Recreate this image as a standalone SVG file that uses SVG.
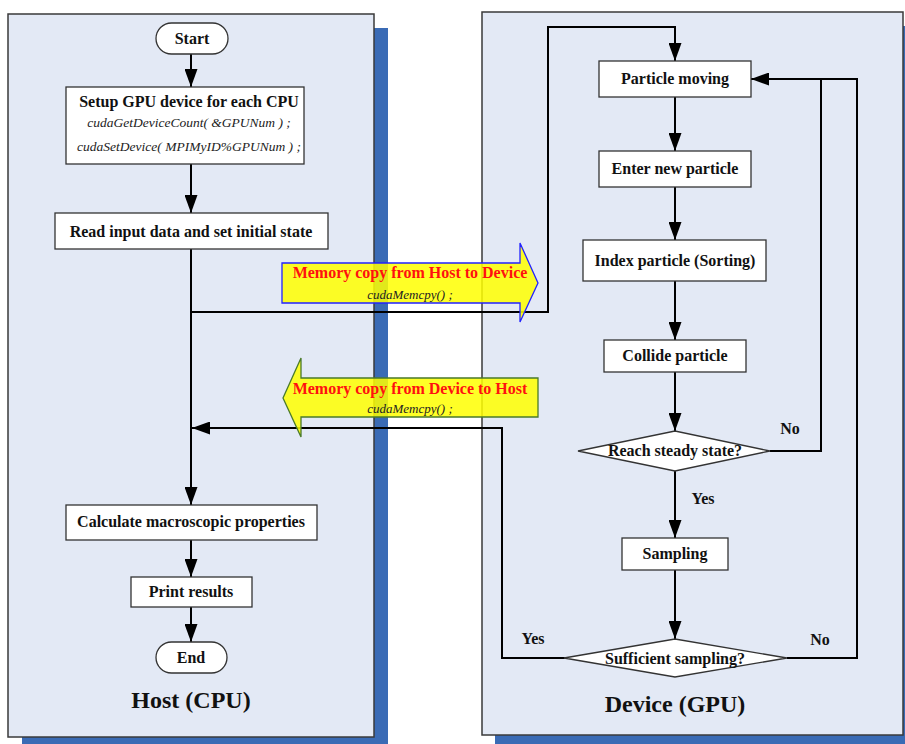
<svg xmlns="http://www.w3.org/2000/svg" width="905" height="744" viewBox="0 0 905 744">
<style>
.panel{fill:#e3e9f5;stroke:#3a3a3a;stroke-width:1.5}
.shadow{fill:#3a6bb5}
.box{fill:#ffffff;stroke:#333;stroke-width:1.3}
.t{font-family:"Liberation Serif","Times New Roman",serif;font-weight:bold;font-size:16px;fill:#111;text-anchor:middle}
.i{font-family:"Liberation Serif","Times New Roman",serif;font-style:italic;font-size:13.5px;fill:#222;text-anchor:middle}
.im{font-family:"Liberation Serif","Times New Roman",serif;font-style:italic;font-size:13px;fill:#222;text-anchor:middle}
.big{font-family:"Liberation Serif","Times New Roman",serif;font-weight:bold;font-size:24px;fill:#111;text-anchor:middle}
.red{font-family:"Liberation Serif","Times New Roman",serif;font-weight:bold;font-size:16px;fill:#ff1010;text-anchor:middle}
.c{fill:none;stroke:#000;stroke-width:2}
</style>
<defs>
<marker id="ah" viewBox="0 0 18 13" refX="18" refY="6.5" markerWidth="18" markerHeight="13" markerUnits="userSpaceOnUse" orient="auto">
<path d="M0,0 L18,6.5 L0,13 z" fill="#000"/>
</marker>
</defs>
<rect width="905" height="744" fill="#ffffff"/>
<g id="host-panel">
<rect class="shadow" x="22" y="28" width="366" height="723"/>
<rect class="panel" x="8" y="14" width="366" height="723"/>
<text class="big" x="191" y="708">Host (CPU)</text>
</g>
<g id="device-panel">
<rect class="shadow" x="495" y="26" width="421" height="723"/>
<rect class="panel" x="482" y="12" width="421" height="723"/>
<text class="big" x="675" y="712">Device (GPU)</text>
</g>
<g id="connectors">
<path class="c" d="M191,54 V87" marker-end="url(#ah)"/>
<path class="c" d="M191,164 V213" marker-end="url(#ah)"/>
<path class="c" d="M191,249 V505" marker-end="url(#ah)"/>
<path class="c" d="M191,540 V577" marker-end="url(#ah)"/>
<path class="c" d="M191,607 V642" marker-end="url(#ah)"/>
<path class="c" d="M191,312 H548 V27 H675 V61" marker-end="url(#ah)"/>
<path class="c" d="M675,97 V151" marker-end="url(#ah)"/>
<path class="c" d="M675,187 V240" marker-end="url(#ah)"/>
<path class="c" d="M675,281 V340" marker-end="url(#ah)"/>
<path class="c" d="M675,372 V431" marker-end="url(#ah)"/>
<path class="c" d="M675,471 V538" marker-end="url(#ah)"/>
<path class="c" d="M675,570 V639" marker-end="url(#ah)"/>
<path class="c" d="M770,451 H821 V79 H751" marker-end="url(#ah)"/>
<path class="c" d="M787,658 H857 V79 H821"/>
<path class="c" d="M565,658 H502 V428 H192" marker-end="url(#ah)"/>
</g>
<g id="start">
<rect class="box" x="156" y="23" width="72" height="31" rx="15.5"/>
<text class="t" x="192" y="44">Start</text>
</g>
<g id="setup">
<rect class="box" x="66" y="87" width="238" height="77"/>
<text class="t" x="189" y="107">Setup GPU device for each CPU</text>
<text class="i" x="189" y="127">cudaGetDeviceCount( &amp;GPUNum ) ;</text>
<text class="i" x="189" y="151">cudaSetDevice( MPIMyID%GPUNum ) ;</text>
</g>
<g id="read">
<rect class="box" x="55" y="213" width="273" height="36"/>
<text class="t" x="191" y="237">Read input data and set initial state</text>
</g>
<g id="calc">
<rect class="box" x="66" y="505" width="251" height="35"/>
<text class="t" x="191" y="527">Calculate macroscopic properties</text>
</g>
<g id="print">
<rect class="box" x="131" y="577" width="121" height="30"/>
<text class="t" x="191" y="597">Print results</text>
</g>
<g id="end">
<rect class="box" x="156" y="642" width="71" height="31" rx="15.5"/>
<text class="t" x="191" y="663">End</text>
</g>
<g id="h2d">
<path d="M282,263 H520 V243 L538,283 L520,322 V303 H282 z" fill="#ffff00" fill-opacity="0.85" stroke="#2222ff" stroke-width="1.3"/>
<text class="red" x="410" y="278">Memory copy from Host to Device</text>
<text class="im" x="410" y="299">cudaMemcpy() ;</text>
</g>
<g id="d2h">
<path d="M538,378 H301 V358 L283,398 L301,437 V417 H538 z" fill="#ffff00" fill-opacity="0.85" stroke="#4a7a2a" stroke-width="1.3"/>
<text class="red" x="410" y="394">Memory copy from Device to Host</text>
<text class="im" x="410" y="413">cudaMemcpy() ;</text>
</g>
<g id="moving">
<rect class="box" x="599" y="61" width="152" height="36"/>
<text class="t" x="675" y="84">Particle moving</text>
</g>
<g id="enter">
<rect class="box" x="599" y="151" width="152" height="36"/>
<text class="t" x="675" y="174">Enter new particle</text>
</g>
<g id="index">
<rect class="box" x="583" y="240" width="183" height="41"/>
<text class="t" x="675" y="266">Index particle (Sorting)</text>
</g>
<g id="collide">
<rect class="box" x="604" y="340" width="142" height="32"/>
<text class="t" x="675" y="361">Collide particle</text>
</g>
<g id="steady">
<path class="box" d="M578,451 L675,431 L770,451 L675,471 z"/>
<text class="t" x="675" y="456">Reach steady state?</text>
<text class="t" x="790" y="434">No</text>
<text class="t" x="703" y="504">Yes</text>
</g>
<g id="sampling">
<rect class="box" x="622" y="538" width="106" height="32"/>
<text class="t" x="675" y="559">Sampling</text>
</g>
<g id="sufficient">
<path class="box" d="M564,658 L675,639 L787,658 L675,677 z"/>
<text class="t" x="675" y="664">Sufficient sampling?</text>
<text class="t" x="533" y="644">Yes</text>
<text class="t" x="820" y="645">No</text>
</g>
</svg>
